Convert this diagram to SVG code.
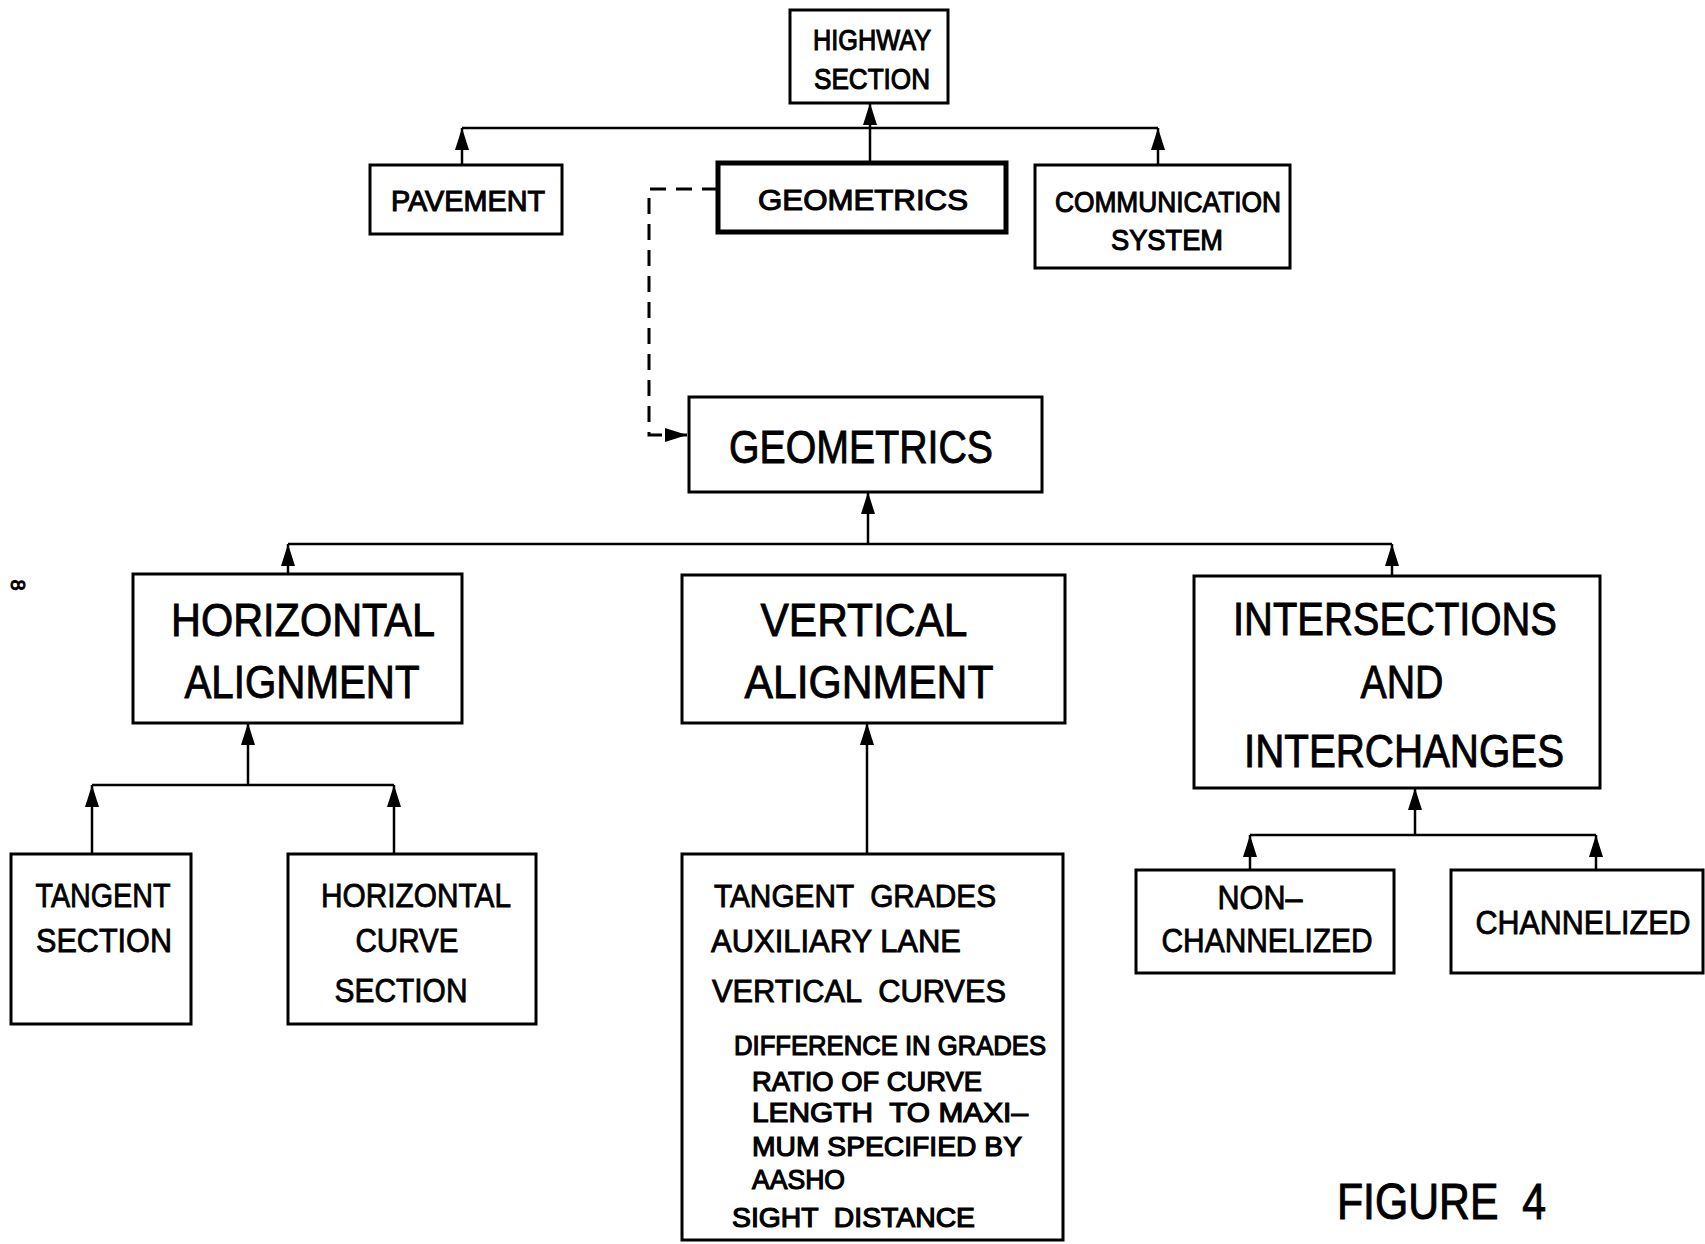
<svg xmlns="http://www.w3.org/2000/svg" width="1705" height="1244" viewBox="0 0 1705 1244">
<style>
.box{fill:#fff;stroke:#000;stroke-width:3}
.thick{stroke-width:5}
.c{fill:none;stroke:#000;stroke-width:2.5}
.d{fill:none;stroke:#000;stroke-width:3;stroke-dasharray:16 10}
text{font-family:"Liberation Sans",Arial,sans-serif;fill:#000;stroke:#000}
.s{font-size:30px;stroke-width:1.1;text-anchor:middle}
.m{font-size:33px;stroke-width:0.8;text-anchor:middle}
.l{font-size:46px;stroke-width:0.9;text-anchor:middle}
.li{font-size:32px;stroke-width:0.9}
.lb{font-size:28px;stroke-width:1.2}
</style>
<defs>
<marker id="a" viewBox="0 0 22 14" refX="22" refY="7" markerUnits="userSpaceOnUse" markerWidth="22" markerHeight="14" orient="auto">
<path d="M0,0 L22,7 L0,14 z" fill="#000"/>
</marker>
</defs>
<rect width="1705" height="1244" fill="#fff" stroke="none"/>
<g id="connectors">
<path class="c" d="M870,163 V103" marker-end="url(#a)"/>
<path class="c" d="M462,128 H1158"/>
<path class="c" d="M462,165 V128" marker-end="url(#a)"/>
<path class="c" d="M1158,165 V128" marker-end="url(#a)"/>
<path class="d" d="M718,189 H649 V435 H687" marker-end="url(#a)"/>
<path class="c" d="M868,544 V492" marker-end="url(#a)"/>
<path class="c" d="M288,544 H1392"/>
<path class="c" d="M288,574 V544" marker-end="url(#a)"/>
<path class="c" d="M1392,576 V544" marker-end="url(#a)"/>
<path class="c" d="M248,785 V723" marker-end="url(#a)"/>
<path class="c" d="M92,785 H394"/>
<path class="c" d="M92,854 V785" marker-end="url(#a)"/>
<path class="c" d="M394,854 V785" marker-end="url(#a)"/>
<path class="c" d="M867,854 V723" marker-end="url(#a)"/>
<path class="c" d="M1415,835 V788" marker-end="url(#a)"/>
<path class="c" d="M1250,835 H1596"/>
<path class="c" d="M1250,870 V835" marker-end="url(#a)"/>
<path class="c" d="M1596,870 V835" marker-end="url(#a)"/>
</g>
<g id="highway">
<rect class="box" x="790" y="10" width="158" height="93"/>
<text class="s" x="872" y="50" textLength="118" lengthAdjust="spacingAndGlyphs">HIGHWAY</text>
<text class="s" x="872" y="89" textLength="116" lengthAdjust="spacingAndGlyphs">SECTION</text>
</g>
<g id="pavement">
<rect class="box" x="370" y="165" width="192" height="69"/>
<text class="s" x="468" y="211" textLength="154" lengthAdjust="spacingAndGlyphs">PAVEMENT</text>
</g>
<g id="geometrics-top">
<rect class="box thick" x="718" y="163" width="288" height="69"/>
<text class="s" x="863" y="210" textLength="210" lengthAdjust="spacingAndGlyphs">GEOMETRICS</text>
</g>
<g id="communication">
<rect class="box" x="1035" y="165" width="255" height="103"/>
<text class="s" x="1168" y="212" textLength="226" lengthAdjust="spacingAndGlyphs">COMMUNICATION</text>
<text class="s" x="1167" y="250" textLength="112" lengthAdjust="spacingAndGlyphs">SYSTEM</text>
</g>
<g id="geometrics">
<rect class="box" x="689" y="397" width="353" height="95"/>
<text class="l" x="861" y="463" textLength="264" lengthAdjust="spacingAndGlyphs">GEOMETRICS</text>
</g>
<g id="horizontal-alignment">
<rect class="box" x="133" y="574" width="329" height="149"/>
<text class="l" x="303" y="636" textLength="264" lengthAdjust="spacingAndGlyphs">HORIZONTAL</text>
<text class="l" x="302" y="698" textLength="235" lengthAdjust="spacingAndGlyphs">ALIGNMENT</text>
</g>
<g id="vertical-alignment">
<rect class="box" x="682" y="575" width="383" height="148"/>
<text class="l" x="864" y="636" textLength="207" lengthAdjust="spacingAndGlyphs">VERTICAL</text>
<text class="l" x="869" y="698" textLength="249" lengthAdjust="spacingAndGlyphs">ALIGNMENT</text>
</g>
<g id="intersections">
<rect class="box" x="1194" y="576" width="406" height="212"/>
<text class="l" x="1395" y="635" textLength="324" lengthAdjust="spacingAndGlyphs">INTERSECTIONS</text>
<text class="l" x="1402" y="698" textLength="83" lengthAdjust="spacingAndGlyphs">AND</text>
<text class="l" x="1404" y="767" textLength="320" lengthAdjust="spacingAndGlyphs">INTERCHANGES</text>
</g>
<g id="tangent-section">
<rect class="box" x="11" y="854" width="180" height="170"/>
<text class="m" x="103" y="907" textLength="135" lengthAdjust="spacingAndGlyphs">TANGENT</text>
<text class="m" x="104" y="952" textLength="136" lengthAdjust="spacingAndGlyphs">SECTION</text>
</g>
<g id="horizontal-curve-section">
<rect class="box" x="288" y="854" width="248" height="170"/>
<text class="m" x="416" y="907" textLength="190" lengthAdjust="spacingAndGlyphs">HORIZONTAL</text>
<text class="m" x="407" y="952" textLength="103" lengthAdjust="spacingAndGlyphs">CURVE</text>
<text class="m" x="401" y="1002" textLength="133" lengthAdjust="spacingAndGlyphs">SECTION</text>
</g>
<g id="vertical-items">
<rect class="box" x="682" y="854" width="381" height="386"/>
<text class="li" x="714" y="907" textLength="282" lengthAdjust="spacingAndGlyphs" xml:space="preserve">TANGENT  GRADES</text>
<text class="li" x="711" y="952" textLength="250" lengthAdjust="spacingAndGlyphs">AUXILIARY LANE</text>
<text class="li" x="712" y="1002" textLength="294" lengthAdjust="spacingAndGlyphs" xml:space="preserve">VERTICAL  CURVES</text>
<text class="lb" x="734" y="1055" textLength="312" lengthAdjust="spacingAndGlyphs">DIFFERENCE IN GRADES</text>
<text class="lb" x="752" y="1091" textLength="230" lengthAdjust="spacingAndGlyphs">RATIO OF CURVE</text>
<text class="lb" x="752" y="1122" textLength="276" lengthAdjust="spacingAndGlyphs" xml:space="preserve">LENGTH  TO MAXI–</text>
<text class="lb" x="752" y="1156" textLength="270" lengthAdjust="spacingAndGlyphs">MUM SPECIFIED BY</text>
<text class="lb" x="752" y="1189" textLength="93" lengthAdjust="spacingAndGlyphs">AASHO</text>
<text class="lb" x="732" y="1227" textLength="243" lengthAdjust="spacingAndGlyphs" xml:space="preserve">SIGHT  DISTANCE</text>
</g>
<g id="non-channelized">
<rect class="box" x="1136" y="870" width="258" height="103"/>
<text class="m" x="1260" y="909" textLength="85" lengthAdjust="spacingAndGlyphs">NON–</text>
<text class="m" x="1267" y="952" textLength="211" lengthAdjust="spacingAndGlyphs">CHANNELIZED</text>
</g>
<g id="channelized">
<rect class="box" x="1451" y="870" width="252" height="103"/>
<text class="m" x="1583" y="934" textLength="215" lengthAdjust="spacingAndGlyphs">CHANNELIZED</text>
</g>
<g id="caption">
<text x="1337" y="1219" font-size="50" stroke-width="1" textLength="209" lengthAdjust="spacingAndGlyphs" xml:space="preserve">FIGURE  4</text>
<text x="18" y="585" font-size="20" stroke-width="1" text-anchor="middle" transform="rotate(90 18 585)" dy="7">8</text>
</g>
</svg>
